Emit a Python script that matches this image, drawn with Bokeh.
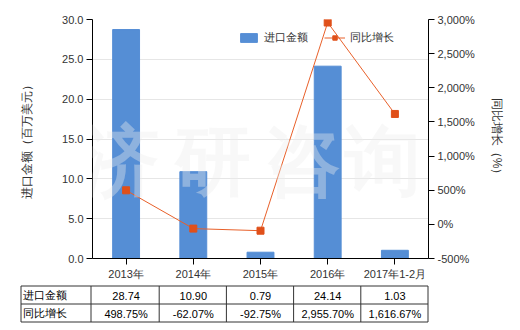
from bokeh.plotting import figure
from bokeh.models import (Range1d, LinearAxis, FactorRange, Legend, LegendItem,
                          NumeralTickFormatter, FixedTicker, Label, ColumnDataSource)
from bokeh.core.properties import value
from bokeh.embed import file_html
from bokeh.resources import INLINE

categories = ["2013年", "2014年", "2015年", "2016年", "2017年1-2月"]
import_values = [28.74, 10.90, 0.79, 24.14, 1.03]
growth_values = [498.75, -62.07, -92.75, 2955.70, 1616.67]
import_labels = ["28.74", "10.90", "0.79", "24.14", "1.03"]
growth_labels = ["498.75%", "-62.07%", "-92.75%", "2,955.70%", "1,616.67%"]
row_names = ["进口金额", "同比增长"]
left_ticks = [0, 5, 10, 15, 20, 25, 30]
right_ticks = [-500, 0, 500, 1000, 1500, 2000, 2500, 3000]

FONT = "Liberation Sans"
BAR = "#558ED5"
LINE = "#E8602A"
MARK = "#E0501A"
TXT = "#333333"

W = 520
ML, MR, MT, MB = 92, 92, 19, 23
H1 = 282

p = figure(width=W, height=H1, x_range=FactorRange(factors=categories),
           y_range=Range1d(0, 30), output_backend="svg", toolbar_location=None,
           min_border_left=ML, min_border_right=MR, min_border_top=MT,
           min_border_bottom=MB)
p.extra_y_ranges = {"pct": Range1d(-500, 3000)}
p.outline_line_color = None
p.background_fill_color = "white"
p.xgrid.grid_line_color = None
p.ygrid.grid_line_color = "#E6E6E6"
p.ygrid.ticker = FixedTicker(ticks=left_ticks)

src = ColumnDataSource(dict(cat=categories, imp=import_values, gr=growth_values))
bars = p.vbar(x="cat", top="imp", width=0.4, source=src, color=BAR)
ln = p.line(x="cat", y="gr", source=src, color=LINE, line_width=1, y_range_name="pct")
mk = p.scatter(x="cat", y="gr", source=src, marker="square", size=7, color=MARK,
               y_range_name="pct")

for ax in [p.xaxis[0], p.yaxis[0]]:
    ax.axis_line_color = "black"
    ax.major_tick_line_color = "black"
    ax.major_tick_out = 6
    ax.major_tick_in = 0
    ax.minor_tick_line_color = None
    ax.major_label_text_font = FONT
    ax.major_label_text_font_size = "11px"
    ax.major_label_text_color = TXT
    ax.major_label_standoff = 3

p.yaxis[0].ticker = FixedTicker(ticks=left_ticks)
p.yaxis[0].formatter = NumeralTickFormatter(format="0.0")
p.yaxis[0].axis_label = "进口金额（百万美元）"
p.yaxis[0].axis_label_text_font = FONT
p.yaxis[0].axis_label_text_font_size = "12px"
p.yaxis[0].axis_label_text_font_style = "normal"
p.yaxis[0].axis_label_text_color = TXT
p.yaxis[0].axis_label_standoff = 25

ra = LinearAxis(y_range_name="pct", ticker=FixedTicker(ticks=right_ticks))
ra.major_label_overrides = {t: f"{t:,}%" for t in right_ticks}
ra.axis_line_color = "black"
ra.major_tick_line_color = "black"
ra.major_tick_out = 6
ra.major_tick_in = 0
ra.minor_tick_line_color = None
ra.major_label_text_font = FONT
ra.major_label_text_font_size = "11px"
ra.major_label_text_color = TXT
ra.major_label_standoff = 3
ra.axis_label = "同比增长（%）"
ra.axis_label_text_font = FONT
ra.axis_label_text_font_size = "12px"
ra.axis_label_text_font_style = "normal"
ra.axis_label_text_color = TXT
ra.axis_label_standoff = 12
p.add_layout(ra, "right")

# watermark
for ch, xx in zip("济研咨询", [0.42, 1.8, 3.12, 4.33]):
    p.add_layout(Label(x=xx, y=12.3, text=ch, text_font=FONT, text_font_size="76px",
                       text_font_style="bold", text_color="#EDEDED", text_alpha=0.38,
                       text_align="center", text_baseline="middle"))

legend = Legend(items=[LegendItem(label="进口金额", renderers=[bars]),
                       LegendItem(label="同比增长", renderers=[ln, mk])],
                orientation="horizontal", location=(146, 213),
                padding=0, margin=0, spacing=16, label_standoff=5,
                glyph_width=21, glyph_height=11,
                border_line_color=None, background_fill_alpha=0,
                label_text_font=FONT, label_text_font_size="11px",
                label_text_color=TXT)
p.add_layout(legend)

# data table (separate root so that its frame spans the full width)
H2 = 330 - H1
t = figure(width=W, height=H2, x_range=Range1d(0, W), y_range=Range1d(H2, 0),
           output_backend="svg", toolbar_location=None, min_border=0,
           x_axis_type=None, y_axis_type=None)
t.outline_line_color = None
t.grid.visible = False

n = len(categories)
band = (W - ML - MR) / n
top, mid, bot = 3.5, 21.5, 39.5
left_edge, head_end = 20.5, ML - 1.5
xs_v = [left_edge, head_end] + [ML + band * (i + 1) - 0.5 for i in range(n)]
t.segment(x0=xs_v, y0=[top] * len(xs_v), x1=xs_v, y1=[bot] * len(xs_v),
          color="#333333", line_width=1)
t.segment(x0=[left_edge] * 3, y0=[top, mid, bot], x1=[xs_v[-1]] * 3, y1=[top, mid, bot],
          color="#333333", line_width=1)

centers = [ML + band * (i + 0.5) for i in range(n)]
t.text(x=[left_edge + 2] * 2, y=[(top + mid) / 2, (mid + bot) / 2], text=row_names,
       text_font=value(FONT), text_font_size="11px", text_color="black",
       text_baseline="middle", text_align="left")
t.text(x=centers, y=[(top + mid) / 2 + 1] * n, text=import_labels,
       text_font=value(FONT), text_font_size="11px", text_color="black",
       text_baseline="middle", text_align="center")
t.text(x=centers, y=[(mid + bot) / 2 + 1] * n, text=growth_labels,
       text_font=value(FONT), text_font_size="11px", text_color="black",
       text_baseline="middle", text_align="center")

open("out.html", "w").write(file_html([p, t], INLINE))
